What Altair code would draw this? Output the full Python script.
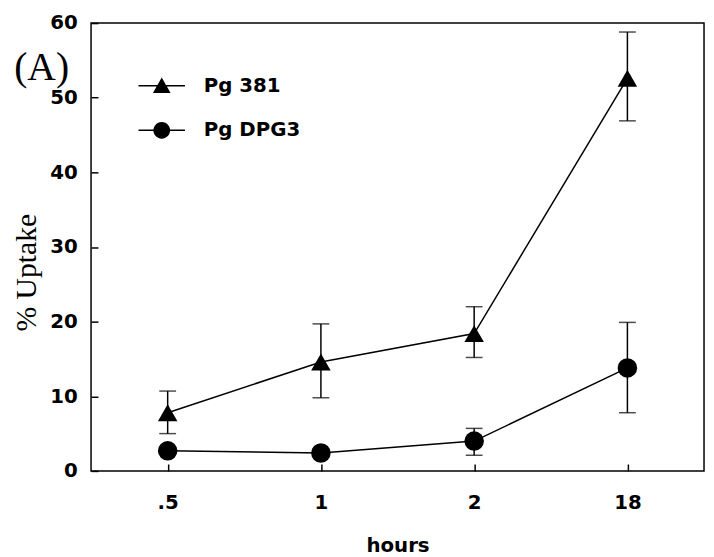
import math
import altair as alt
import pandas as pd

# ---- data ----
hours = [".5", "1", "2", "18"]
series = ["Pg 381", "Pg DPG3"]
pg381 = [7.8, 14.6, 18.4, 52.6]
pg381_lo = [5.0, 9.8, 15.2, 46.9]
pg381_hi = [10.7, 19.7, 22.0, 58.8]
dpg3 = [2.7, 2.4, 4.0, 13.8]
dpg3_lo = [None, None, 2.1, 7.8]
dpg3_hi = [None, None, 5.7, 19.9]
y_ticks = [0, 10, 20, 30, 40, 50, 60]
panel_label = ["(A)"]

rows = []
for s, vals, lo, hi in [(series[0], pg381, pg381_lo, pg381_hi),
                        (series[1], dpg3, dpg3_lo, dpg3_hi)]:
    for h, v, l, u in zip(hours, vals, lo, hi):
        rows.append(dict(hours=h, series=s, value=v, lo=l, hi=u))
df = pd.DataFrame(rows)
err = df.dropna(subset=["lo"])

W, H = 620, 453

# legend symbols: marker with a (filled, thin) line through it
bar = "M-1,-0.033L1,-0.033L1,0.033L-1,0.033Z"
tri_path = bar + "M0,-0.36L0.38,0.31L-0.38,0.31Z"
pts = []
for i in range(28):
    a = 2 * math.pi * i / 28
    pts.append(f"{0.36*math.cos(a):.3f},{0.36*math.sin(a):.3f}")
circ_path = bar + "M" + "L".join(pts) + "Z"

x_scale = alt.Scale(type="point", padding=0.5, domain=hours)
y_scale = alt.Scale(domain=[0, 60], nice=False)

x_lab = alt.X("hours:N", sort=hours, scale=x_scale,
              axis=alt.Axis(title="hours", labelAngle=0, ticks=False, domain=False,
                            labelPadding=22, titleBaseline="alphabetic", titleY=81,
                            titleFont="DejaVu Sans", titleFontWeight="bold",
                            titleFontSize=20))
y_lab = alt.Y("value:Q", scale=y_scale,
              axis=alt.Axis(title="% Uptake", values=y_ticks, ticks=False, domain=False,
                            labelPadding=14, titleFont="Liberation Serif",
                            titleFontWeight="normal", titleFontSize=30,
                            titleAngle=-90, titleBaseline="middle", titleAlign="center",
                            titleX=-65, titleY=252))

lines = alt.Chart(df).mark_line(color="black", strokeWidth=1.5).encode(
    x=x_lab, y=y_lab, detail="series:N")

x_none = alt.X("hours:N", sort=hours, scale=x_scale, axis=None)

rules = alt.Chart(err).mark_rule(color="black", strokeWidth=1.5).encode(
    x=x_none, y=alt.Y("lo:Q", scale=y_scale, axis=None), y2="hi:Q")
cap_lo = alt.Chart(err).mark_tick(color="black", thickness=1.5, size=17).encode(
    x=x_none, y=alt.Y("lo:Q", scale=y_scale, axis=None))
cap_hi = alt.Chart(err).mark_tick(color="black", thickness=1.5, size=17).encode(
    x=x_none, y=alt.Y("hi:Q", scale=y_scale, axis=None))

points = alt.Chart(df).mark_point(filled=True, color="black", opacity=1, size=390).encode(
    x=alt.X("hours:N", sort=hours, scale=x_scale,
            axis=alt.Axis(orient="top", offset=-H, labels=False, domain=False,
                          tickSize=7, tickWidth=1.5, tickColor="black", title=None)),
    y=alt.Y("value:Q", scale=y_scale,
            axis=alt.Axis(orient="right", offset=-W, values=y_ticks, labels=False,
                          domain=False, tickSize=7, tickWidth=1.5, tickColor="black",
                          title=None)),
    shape=alt.Shape("series:N", scale=alt.Scale(domain=series,
                                                range=["triangle-up", "circle"]),
                    legend=None))

legend_layer = alt.Chart(df).mark_point(filled=True, color="black", opacity=0).encode(
    x=x_none, y=alt.Y("value:Q", scale=y_scale, axis=None),
    shape=alt.Shape("series:N", scale=alt.Scale(domain=series,
                                                range=[tri_path, circ_path]),
                    legend=alt.Legend(title=None, orient="none", legendX=47, legendY=39,
                                      symbolSize=2209, symbolOpacity=1,
                                      symbolFillColor="black", labelFont="DejaVu Sans",
                                      labelFontWeight="bold", labelFontSize=20,
                                      labelColor="black", labelOffset=18,
                                      rowPadding=10, padding=0)))

label = alt.Chart(pd.DataFrame({"t": panel_label})).mark_text(
    font="Liberation Serif", fontSize=40, color="black").encode(
    text="t:N", x=alt.value(-50), y=alt.value(46))

chart = alt.layer(lines, rules, cap_lo, cap_hi, points, legend_layer, label).resolve_scale(
    shape="independent").resolve_axis(x="independent", y="independent").properties(
    width=W, height=H,
    autosize=alt.AutoSizeParams(type="none"),
    padding={"left": 84, "top": 12, "right": 2, "bottom": 100}
).configure_view(stroke="black", strokeWidth=1.5).configure_axis(
    grid=False, labelFont="DejaVu Sans", labelFontWeight="bold", labelFontSize=20,
    labelColor="black", titleColor="black")

chart.save("out.html", embed_options={"renderer": "svg", "actions": False})
